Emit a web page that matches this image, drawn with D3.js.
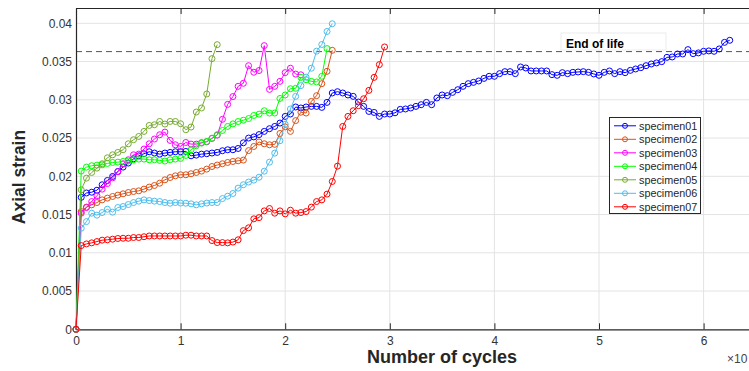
<!DOCTYPE html>
<html>
<head>
<meta charset="utf-8">
<script src="https://cdn.jsdelivr.net/npm/d3@7"></script>
<style>
  body { margin: 0; background: #fff; }
  text { font-family: Arial, "Liberation Sans", sans-serif; }
</style>
</head>
<body>
<svg id="chart" width="749" height="371"></svg>
<script>
// data: [cycles (x10^4), axial strain]
const specimen01 = [[0,0],[0.05,0.01725],[0.10,0.01782],[0.15,0.01792],[0.20,0.01818],[0.25,0.01889],[0.30,0.01945],[0.35,0.01998],[0.40,0.02063],[0.45,0.0212],[0.50,0.02173],[0.55,0.02229],[0.60,0.02268],[0.65,0.02295],[0.70,0.02321],[0.75,0.02304],[0.80,0.0229],[0.85,0.02304],[0.90,0.02312],[0.95,0.02321],[1.00,0.02321],[1.05,0.02325],[1.10,0.02268],[1.15,0.02277],[1.20,0.0229],[1.25,0.02295],[1.30,0.02304],[1.35,0.02312],[1.40,0.02334],[1.45,0.02347],[1.50,0.02347],[1.55,0.02364],[1.60,0.02438],[1.65,0.025],[1.70,0.02515],[1.75,0.02545],[1.80,0.02587],[1.85,0.02622],[1.90,0.02652],[1.95,0.02696],[2.00,0.02783],[2.05,0.02814],[2.10,0.02906],[2.15,0.02893],[2.20,0.02906],[2.25,0.02914],[2.30,0.02914],[2.35,0.02901],[2.40,0.02966],[2.45,0.03089],[2.50,0.03106],[2.55,0.03089],[2.60,0.03063],[2.65,0.03045],[2.70,0.02971],[2.75,0.02914],[2.80,0.02848],[2.85,0.02835],[2.90,0.02783],[2.95,0.02814],[3.00,0.02814],[3.05,0.0283],[3.10,0.02875],[3.15,0.0288],[3.20,0.02893],[3.25,0.02914],[3.30,0.02936],[3.35,0.02966],[3.40,0.02936],[3.45,0.03024],[3.50,0.03063],[3.55,0.03054],[3.60,0.03097],[3.65,0.03132],[3.70,0.03176],[3.75,0.03211],[3.80,0.03228],[3.85,0.03246],[3.90,0.0328],[3.95,0.03307],[4.00,0.03307],[4.05,0.03342],[4.10,0.03368],[4.15,0.03368],[4.20,0.03342],[4.25,0.03429],[4.30,0.03416],[4.35,0.03377],[4.40,0.03377],[4.45,0.03377],[4.50,0.03377],[4.55,0.03329],[4.60,0.0332],[4.65,0.03355],[4.70,0.03342],[4.75,0.03359],[4.80,0.03364],[4.85,0.03368],[4.90,0.03359],[4.95,0.03338],[5.00,0.0332],[5.05,0.03359],[5.10,0.03377],[5.15,0.03342],[5.20,0.03368],[5.25,0.03355],[5.30,0.03385],[5.35,0.03403],[5.40,0.0342],[5.45,0.03446],[5.50,0.03468],[5.55,0.03482],[5.60,0.03499],[5.65,0.03555],[5.70,0.0356],[5.75,0.03599],[5.80,0.03599],[5.85,0.03656],[5.90,0.03603],[5.95,0.03613],[6.00,0.03634],[6.05,0.03639],[6.10,0.03634],[6.15,0.03665],[6.20,0.03751],[6.25,0.03778]];

const specimen02 = [[0,0],[0.05,0.01539],[0.10,0.01597],[0.15,0.01627],[0.20,0.01657],[0.25,0.01692],[0.30,0.01715],[0.35,0.01736],[0.40,0.01754],[0.45,0.01771],[0.50,0.01788],[0.55,0.01801],[0.60,0.0181],[0.65,0.01832],[0.70,0.01859],[0.75,0.0188],[0.80,0.0191],[0.85,0.01954],[0.90,0.01984],[0.95,0.02006],[1.00,0.0202],[1.05,0.0202],[1.10,0.02033],[1.15,0.0205],[1.20,0.02068],[1.25,0.02094],[1.30,0.02128],[1.35,0.02147],[1.40,0.02164],[1.45,0.02181],[1.50,0.02194],[1.55,0.02203],[1.60,0.02212],[1.65,0.02336],[1.70,0.0239],[1.75,0.02449],[1.80,0.02425],[1.85,0.02412],[1.90,0.02418],[1.95,0.0256],[2.00,0.02646],[2.05,0.02587],[2.10,0.02728],[2.15,0.02838],[2.20,0.02827],[2.25,0.02979],[2.30,0.03054],[2.35,0.03211],[2.40,0.03372],[2.45,0.03647]];

const specimen03 = [[0,0],[0.05,0.01518],[0.10,0.01592],[0.15,0.0167],[0.20,0.01745],[0.25,0.01832],[0.30,0.01905],[0.35,0.0198],[0.40,0.0206],[0.45,0.02164],[0.50,0.02216],[0.55,0.02281],[0.60,0.0229],[0.65,0.02356],[0.70,0.02425],[0.75,0.02487],[0.80,0.02543],[0.85,0.02578],[0.90,0.02469],[0.95,0.02412],[1.00,0.0239],[1.05,0.02442],[1.10,0.02421],[1.15,0.0242],[1.20,0.0244],[1.25,0.02451],[1.30,0.02495],[1.35,0.02538],[1.40,0.02745],[1.45,0.0294],[1.50,0.03042],[1.55,0.03176],[1.60,0.03216],[1.65,0.03446],[1.70,0.0336],[1.75,0.03383],[1.80,0.03708],[1.85,0.03136],[1.90,0.03176],[1.95,0.03241],[2.00,0.03355],[2.05,0.03413],[2.10,0.03336],[2.15,0.03327]];

const specimen04 = [[0,0],[0.05,0.02068],[0.10,0.0212],[0.15,0.02138],[0.20,0.02146],[0.25,0.0215],[0.30,0.02168],[0.35,0.02181],[0.40,0.02185],[0.45,0.02194],[0.50,0.02199],[0.55,0.02216],[0.60,0.02225],[0.65,0.02225],[0.70,0.02216],[0.75,0.02216],[0.80,0.02208],[0.85,0.02199],[0.90,0.02216],[0.95,0.02225],[1.00,0.02234],[1.05,0.02273],[1.10,0.02347],[1.15,0.02399],[1.20,0.02434],[1.25,0.02456],[1.30,0.02499],[1.35,0.02543],[1.40,0.02599],[1.45,0.02652],[1.50,0.02685],[1.55,0.02716],[1.60,0.02733],[1.65,0.02755],[1.70,0.02795],[1.75,0.02812],[1.80,0.02857],[1.85,0.02827],[1.90,0.02827],[1.95,0.03018],[2.00,0.03063],[2.05,0.03145],[2.10,0.0315],[2.15,0.03293],[2.20,0.03263],[2.25,0.03241],[2.30,0.03233],[2.35,0.03307],[2.40,0.03669]];

const specimen05 = [[0,0],[0.05,0.01823],[0.10,0.01976],[0.15,0.0205],[0.20,0.02107],[0.25,0.02164],[0.30,0.02242],[0.35,0.02281],[0.40,0.02312],[0.45,0.02347],[0.50,0.02425],[0.55,0.02478],[0.60,0.02521],[0.65,0.02587],[0.70,0.02665],[0.75,0.02674],[0.80,0.02717],[0.85,0.02683],[0.90,0.02717],[0.95,0.02717],[1.00,0.02687],[1.05,0.02609],[1.10,0.02644],[1.15,0.0284],[1.20,0.02893],[1.25,0.03076],[1.30,0.03538],[1.35,0.03721]];

const specimen06 = [[0,0],[0.05,0.01322],[0.10,0.01408],[0.15,0.01518],[0.20,0.01492],[0.25,0.01526],[0.30,0.0157],[0.35,0.01531],[0.40,0.01592],[0.45,0.01605],[0.50,0.01631],[0.55,0.01657],[0.60,0.01675],[0.65,0.01692],[0.70,0.01683],[0.75,0.01675],[0.80,0.0167],[0.85,0.01657],[0.90,0.01648],[0.95,0.01657],[1.00,0.0165],[1.05,0.01648],[1.10,0.0164],[1.15,0.01627],[1.20,0.0164],[1.25,0.0165],[1.30,0.01657],[1.35,0.01657],[1.40,0.01709],[1.45,0.0174],[1.50,0.01775],[1.55,0.01845],[1.60,0.0189],[1.65,0.01925],[1.70,0.0195],[1.75,0.01988],[1.80,0.02067],[1.85,0.02185],[1.90,0.02303],[1.95,0.02465],[2.00,0.0268],[2.05,0.0288],[2.10,0.03045],[2.15,0.03185],[2.20,0.03296],[2.25,0.03413],[2.30,0.03636],[2.35,0.03723],[2.40,0.03893],[2.45,0.03994]];

const specimen07 = [[0,0],[0.05,0.01094],[0.10,0.01116],[0.15,0.0113],[0.20,0.01147],[0.25,0.01165],[0.30,0.0117],[0.35,0.01178],[0.40,0.01187],[0.45,0.0119],[0.50,0.0119],[0.55,0.012],[0.60,0.012],[0.65,0.0121],[0.70,0.0122],[0.75,0.0122],[0.80,0.0122],[0.85,0.0122],[0.90,0.0122],[0.95,0.0122],[1.00,0.0122],[1.05,0.0123],[1.10,0.0123],[1.15,0.0122],[1.20,0.0122],[1.25,0.0122],[1.30,0.0116],[1.35,0.01134],[1.40,0.01134],[1.45,0.0113],[1.50,0.0114],[1.55,0.0117],[1.60,0.0129],[1.65,0.01327],[1.70,0.01444],[1.75,0.0146],[1.80,0.01548],[1.85,0.01579],[1.90,0.01518],[1.95,0.01548],[2.00,0.01509],[2.05,0.01557],[2.10,0.01518],[2.15,0.01526],[2.20,0.01539],[2.25,0.01597],[2.30,0.0167],[2.35,0.01692],[2.40,0.01767],[2.45,0.01932],[2.50,0.02133],[2.55,0.02652],[2.60,0.02783],[2.65,0.02857],[2.70,0.02923],[2.75,0.03014],[2.80,0.03123],[2.85,0.03293],[2.90,0.0346],[2.95,0.03691]];

const seriesNames = ["specimen01", "specimen02", "specimen03", "specimen04", "specimen05", "specimen06", "specimen07"];
const seriesData = [specimen01, specimen02, specimen03, specimen04, specimen05, specimen06, specimen07];
const seriesColors = ["#0000ff", "#D95319", "#ff00ff", "#00ff00", "#77AC30", "#4DBEEE", "#ff0000"];

const xTicks = [0, 1, 2, 3, 4, 5, 6];
const yTicks = [0, 0.005, 0.01, 0.015, 0.02, 0.025, 0.03, 0.035, 0.04];
const endOfLife = 0.0363;

let svg = d3.select("#chart");
// the figure is cropped on the right: the axis runs to 7 beyond the edge
let plot = {left: 76, right: 808.2, top: 8, bottom: 329.3};

let x = d3.scaleLinear().domain([0, 7]).range([plot.left, plot.right]);
let y = d3.scaleLinear().domain([0, 0.042]).range([plot.bottom, plot.top]);

// grid
let grid = svg.append("g").attr("stroke", "#e3e3e3").attr("stroke-width", 1);
grid.selectAll(".gy").data(yTicks.slice(1)).enter().append("line")
  .attr("x1", plot.left).attr("x2", plot.right)
  .attr("y1", d => y(d)).attr("y2", d => y(d));
grid.selectAll(".gx").data(xTicks.slice(1)).enter().append("line")
  .attr("x1", d => x(d)).attr("x2", d => x(d))
  .attr("y1", plot.top).attr("y2", plot.bottom);

// end of life line
svg.append("line")
  .attr("x1", plot.left).attr("x2", plot.right)
  .attr("y1", y(endOfLife)).attr("y2", y(endOfLife))
  .attr("stroke", "#555").attr("stroke-width", 1)
  .attr("stroke-dasharray", "6,4");

// axes
let xAxis = svg.append("g")
  .attr("transform", `translate(0, ${plot.bottom})`)
  .call(d3.axisBottom(x).tickValues(xTicks).tickSizeInner(-6).tickSizeOuter(0).tickPadding(7)
    .tickFormat(d3.format("d")));
let xTop = svg.append("g")
  .attr("transform", `translate(0, ${plot.top})`)
  .call(d3.axisTop(x).tickValues(xTicks).tickSizeInner(-6).tickSizeOuter(0).tickFormat(""));
let yAxis = svg.append("g")
  .attr("transform", `translate(${plot.left}, 0)`)
  .call(d3.axisLeft(y).tickValues(yTicks).tickSize(0).tickPadding(4)
    .tickFormat(d => String(+d.toFixed(3))));

[xAxis, xTop, yAxis].forEach(g => {
  g.select(".domain").attr("stroke", "#262626").attr("stroke-width", 1.2);
  g.selectAll(".tick line").attr("stroke", "#262626");
  g.selectAll(".tick text").attr("fill", "#333").style("font-size", "12px");
});

// series
let line = d3.line().x(d => x(d[0])).y(d => y(d[1]));
seriesData.forEach((data, i) => {
  let g = svg.append("g");
  g.append("path")
    .datum(data)
    .attr("fill", "none")
    .attr("stroke", seriesColors[i])
    .attr("stroke-width", 1)
    .attr("d", line);
  g.selectAll("circle").data(data).enter().append("circle")
    .attr("cx", d => x(d[0]))
    .attr("cy", d => y(d[1]))
    .attr("r", 3)
    .attr("fill", "none")
    .attr("stroke", seriesColors[i])
    .attr("stroke-width", 1);
});

// "End of life" label
let eol = svg.append("g");
eol.append("rect")
  .attr("x", 561).attr("y", 33).attr("width", 105).attr("height", 17)
  .attr("fill", "white").attr("stroke", "#ececec");
eol.append("text")
  .attr("x", 566).attr("y", 47.5)
  .style("font-size", "12px").style("font-weight", "bold")
  .attr("fill", "#000")
  .text("End of life");

// legend
let legend = svg.append("g");
legend.append("rect")
  .attr("x", 609.5).attr("y", 117.5).attr("width", 91).attr("height", 96)
  .attr("fill", "white").attr("stroke", "#262626").attr("stroke-width", 1);
seriesNames.forEach((name, i) => {
  let cy = 125.8 + i * 13.5;
  legend.append("line")
    .attr("x1", 614).attr("x2", 636).attr("y1", cy).attr("y2", cy)
    .attr("stroke", seriesColors[i]).attr("stroke-width", 1);
  legend.append("circle")
    .attr("cx", 625).attr("cy", cy).attr("r", 2.5)
    .attr("fill", "none").attr("stroke", seriesColors[i]);
  legend.append("text")
    .attr("x", 639).attr("y", cy + 3.8)
    .style("font-size", "10.8px").attr("fill", "#262626")
    .text(name);
});

// axis titles
svg.append("text")
  .attr("x", (plot.left + plot.right) / 2).attr("y", 363)
  .attr("text-anchor", "middle")
  .style("font-size", "18px").style("font-weight", "bold").attr("fill", "#262626")
  .text("Number of cycles");
svg.append("text")
  .attr("transform", "translate(25, 177) rotate(-90)")
  .attr("text-anchor", "middle")
  .style("font-size", "17.5px").style("font-weight", "bold").attr("fill", "#262626")
  .text("Axial strain");

// exponent label, cut by the right edge as in the figure
svg.append("text")
  .attr("x", 727).attr("y", 362.5)
  .style("font-size", "12px").attr("fill", "#444")
  .text("×10");
</script>
</body>
</html>
